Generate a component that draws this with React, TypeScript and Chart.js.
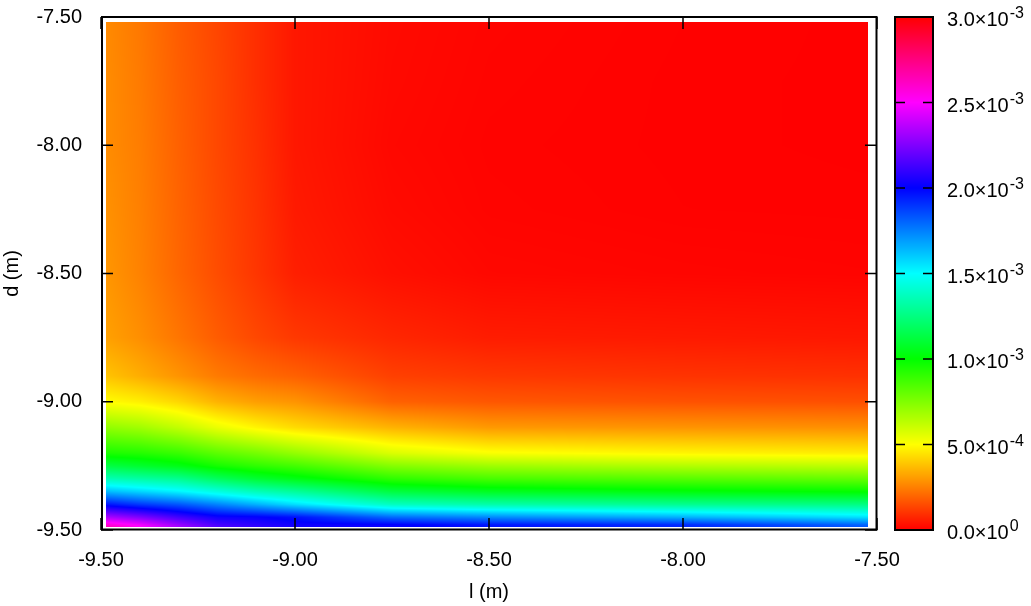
import React, { useEffect, useRef } from "react";
import { Chart, registerables } from "chart.js";

Chart.register(...registerables);

// Grid nodes
const lNodes = [-9.5, -9.4, -9.3, -9.2, -9.1, -9.0, -8.75, -8.5, -8.0, -7.5];
const dNodes = [-7.5, -7.75, -8.0, -8.25, -8.5, -8.75, -8.9, -9.0, -9.1, -9.2, -9.25, -9.3, -9.35, -9.4, -9.45, -9.48, -9.5];

// Values along each column (one list per l node, following dNodes top to bottom), in units of 1e-4
const Z_UNIT = 1e-4;
const zAtL950 = [2.75, 2.8, 2.8, 2.9, 3.0, 3.2, 3.9, 5.0, 7.2, 9.5, 11.4, 13.6, 16.4, 19.7, 23.5, 26.0, 27.5];
const zAtL940 = [2.35, 2.4, 2.45, 2.5, 2.55, 2.8, 3.4, 4.7, 6.85, 9.3, 10.9, 13.2, 15.8, 18.9, 22.5, 24.8, 25.5];
const zAtL930 = [1.8, 1.85, 1.9, 1.95, 2.0, 2.3, 2.9, 4.2, 6.2, 8.9, 10.4, 12.8, 15.2, 18.3, 21.3, 23.0, 23.5];
const zAtL920 = [1.35, 1.4, 1.4, 1.45, 1.5, 1.8, 2.4, 3.5, 5.4, 8.2, 9.6, 11.8, 14.4, 17.4, 20.3, 21.4, 21.8];
const zAtL910 = [0.9, 0.9, 0.95, 1.0, 1.05, 1.4, 2.1, 3.1, 4.8, 7.7, 9.1, 11.0, 13.6, 16.5, 20.1, 20.8, 21.1];
const zAtL900 = [0.45, 0.45, 0.45, 0.5, 0.6, 1.1, 1.9, 2.9, 4.3, 7.1, 8.7, 10.4, 13.0, 15.6, 19.7, 20.3, 20.5];
const zAtL875 = [0.2, 0.18, 0.15, 0.2, 0.3, 0.75, 1.25, 1.9, 3.5, 5.7, 7.4, 9.1, 11.25, 13.75, 17.9, 20.1, 20.2];
const zAtL850 = [0.1, 0.08, 0.06, 0.08, 0.15, 0.55, 1.1, 1.7, 3.0, 5.1, 6.9, 8.6, 10.65, 13.3, 17.3, 19.6, 19.8];
const zAtL800 = [0.03, 0.02, 0.02, 0.03, 0.1, 0.5, 1.0, 1.6, 2.9, 4.8, 6.5, 8.3, 10.2, 12.8, 16.5, 19.2, 19.3];
const zAtL750 = [0.0, 0.0, 0.0, 0.02, 0.07, 0.45, 0.95, 1.55, 2.8, 4.6, 6.25, 8.0, 9.9, 12.5, 15.5, 18.0, 18.6];
const zColumns = [zAtL950, zAtL940, zAtL930, zAtL920, zAtL910, zAtL900, zAtL875, zAtL850, zAtL800, zAtL750];

const xTickValues = [-9.5, -9.0, -8.5, -8.0, -7.5];
const yTickValues = [-9.5, -9.0, -8.5, -8.0, -7.5];

const cbMin = 0;
const cbMax = 3e-3;
const cbTickValues = [0, 5e-4, 1e-3, 1.5e-3, 2e-3, 2.5e-3, 3e-3];
const cbMantissas = ["0.0", "5.0", "1.0", "1.5", "2.0", "2.5", "3.0"];
const cbExponents = ["0", "-4", "-3", "-3", "-3", "-3", "-3"];

const FONT_FAMILY = '"Liberation Sans", Arial, Helvetica, sans-serif';

function paletteColor(v: number): [number, number, number] {
  let t = (v - cbMin) / (cbMax - cbMin);
  if (t < 0) t = 0;
  if (t > 1) t = 1;
  const h = (t * 360) % 360;
  const hp = h / 60;
  const x = 1 - Math.abs((hp % 2) - 1);
  let r = 0, g = 0, b = 0;
  if (hp < 1) { r = 1; g = x; }
  else if (hp < 2) { r = x; g = 1; }
  else if (hp < 3) { g = 1; b = x; }
  else if (hp < 4) { g = x; b = 1; }
  else if (hp < 5) { r = x; b = 1; }
  else { r = 1; b = x; }
  return [Math.round(r * 255), Math.round(g * 255), Math.round(b * 255)];
}

function locate(arr: number[], v: number): [number, number] {
  for (let k = 0; k < arr.length - 1; k++) {
    const a = arr[k], b = arr[k + 1];
    if ((v - a) * (v - b) <= 0) return [k, (v - a) / (b - a)];
  }
  const asc = arr[arr.length - 1] > arr[0];
  if ((asc && v < arr[0]) || (!asc && v > arr[0])) return [0, 0];
  return [arr.length - 2, 1];
}

const heatPlugin = {
  id: "heatmap",
  afterDatasetsDraw(chart: any) {
    const ctx: CanvasRenderingContext2D = chart.ctx;
    const xs = chart.scales.x;
    const ys = chart.scales.y;
    const cb = chart.scales.cb;
    const ca = chart.chartArea;

    // heat image
    const x0 = Math.round(ca.left + 5);
    const x1 = Math.round(ca.right - 9);
    const y0 = Math.round(ca.top + 5);
    const y1 = Math.round(ca.bottom - 3);
    const w = x1 - x0;
    const h = y1 - y0;
    const img = ctx.createImageData(w, h);
    const cols: [number, number][] = [];
    const rows: [number, number][] = [];
    for (let i = 0; i < w; i++) cols.push(locate(lNodes, xs.getValueForPixel(x0 + i + 0.5)));
    for (let j = 0; j < h; j++) rows.push(locate(dNodes, ys.getValueForPixel(y0 + j + 0.5)));
    for (let j = 0; j < h; j++) {
      const [ri, rt] = rows[j];
      for (let i = 0; i < w; i++) {
        const [ci, ct] = cols[i];
        const z00 = zColumns[ci][ri];
        const z10 = zColumns[ci + 1][ri];
        const z01 = zColumns[ci][ri + 1];
        const z11 = zColumns[ci + 1][ri + 1];
        const z = ((1 - ct) * (1 - rt) * z00 + ct * (1 - rt) * z10 + (1 - ct) * rt * z01 + ct * rt * z11) * Z_UNIT;
        const [r, g, b] = paletteColor(z);
        const p = (j * w + i) * 4;
        img.data[p] = r;
        img.data[p + 1] = g;
        img.data[p + 2] = b;
        img.data[p + 3] = 255;
      }
    }
    ctx.putImageData(img, x0, y0);

    ctx.save();
    ctx.strokeStyle = "#000";
    // inward ticks, mirrored
    ctx.lineWidth = 1.5;
    ctx.beginPath();
    for (const v of xTickValues) {
      const px = xs.getPixelForValue(v);
      ctx.moveTo(px, ca.bottom);
      ctx.lineTo(px, ca.bottom - 12);
      ctx.moveTo(px, ca.top);
      ctx.lineTo(px, ca.top + 12);
    }
    for (const v of yTickValues) {
      const py = ys.getPixelForValue(v);
      ctx.moveTo(ca.left, py);
      ctx.lineTo(ca.left + 12, py);
      ctx.moveTo(ca.right, py);
      ctx.lineTo(ca.right - 12, py);
    }
    ctx.stroke();
    // frame
    ctx.lineWidth = 2;
    ctx.strokeRect(ca.left + 1, ca.top, ca.right - ca.left - 1.5, ca.bottom - ca.top - 0.5);

    // colour box
    const cbL = ca.right + 18;
    const cbW = 38;
    const cbR = cbL + cbW;
    const cTop = Math.min(cb.getPixelForValue(cbMax), cb.getPixelForValue(cbMin));
    const cBot = Math.max(cb.getPixelForValue(cbMax), cb.getPixelForValue(cbMin));
    for (let py = Math.floor(cTop); py < Math.ceil(cBot); py++) {
      const v = cb.getValueForPixel(py + 0.5);
      const [r, g, b] = paletteColor(v);
      ctx.fillStyle = `rgb(${r},${g},${b})`;
      ctx.fillRect(cbL, py, cbW, 1);
    }
    ctx.lineWidth = 1.5;
    ctx.beginPath();
    for (const v of cbTickValues) {
      const py = cb.getPixelForValue(v);
      ctx.moveTo(cbL, py);
      ctx.lineTo(cbL + 10, py);
      ctx.moveTo(cbR, py);
      ctx.lineTo(cbR - 10, py);
    }
    ctx.stroke();
    ctx.lineWidth = 2;
    ctx.strokeRect(cbL, cTop, cbW, cBot - cTop);

    // colour box labels
    ctx.fillStyle = "#000";
    ctx.textAlign = "left";
    ctx.textBaseline = "alphabetic";
    cbTickValues.forEach((v, k) => {
      const py = cb.getPixelForValue(v);
      const base = cbMantissas[k] + "\u00d710";
      ctx.font = `20px ${FONT_FAMILY}`;
      const lx = cbR + 14;
      ctx.fillText(base, lx, py + 9);
      const bw = ctx.measureText(base).width;
      ctx.font = `16px ${FONT_FAMILY}`;
      ctx.fillText(cbExponents[k], lx + bw + 1, py + 1);
    });
    ctx.restore();
  },
};

export default function App() {
  const ref = useRef<HTMLCanvasElement | null>(null);
  useEffect(() => {
    if (!ref.current) return;
    const font = { family: FONT_FAMILY, size: 20 };
    const chart = new Chart(ref.current, {
      type: "scatter",
      data: { datasets: [] },
      options: {
        responsive: false,
        animation: false,
        events: [],
        layout: { padding: { left: 0, top: 17, right: 154, bottom: 0 } },
        plugins: { legend: { display: false }, tooltip: { enabled: false } },
        scales: {
          x: {
            type: "linear",
            position: "bottom",
            min: -9.5,
            max: -7.5,
            afterBuildTicks: (s: any) => {
              s.ticks = xTickValues.map((v) => ({ value: v }));
            },
            afterFit: (s: any) => {
              s.height = 76;
              s.paddingLeft = 0;
              s.paddingRight = 0;
              s.paddingTop = 0;
              s.paddingBottom = 0;
            },
            ticks: {
              font,
              color: "#000",
              padding: 18,
              autoSkip: false,
              maxRotation: 0,
              callback: (v: any) => Number(v).toFixed(2),
            },
            grid: { display: false, drawTicks: false },
            border: { display: false },
            title: { display: true, text: "l (m)", font, color: "#000", padding: { top: 0, bottom: 2 } },
          },
          y: {
            type: "linear",
            position: "left",
            min: -9.5,
            max: -7.5,
            afterBuildTicks: (s: any) => {
              s.ticks = yTickValues.map((v) => ({ value: v }));
            },
            afterFit: (s: any) => {
              s.width = 101;
              s.paddingLeft = 0;
              s.paddingRight = 0;
              s.paddingTop = 0;
              s.paddingBottom = 0;
            },
            ticks: {
              font,
              color: "#000",
              padding: 19,
              autoSkip: false,
              callback: (v: any) => Number(v).toFixed(2),
            },
            grid: { display: false, drawTicks: false },
            border: { display: false },
            title: { display: true, text: "d (m)", font, color: "#000", padding: { top: 0, bottom: 0 } },
          },
          cb: {
            type: "linear",
            position: "right",
            display: false,
            min: cbMin,
            max: cbMax,
            afterFit: (s: any) => {
              s.paddingLeft = 0;
              s.paddingRight = 0;
              s.paddingTop = 0;
              s.paddingBottom = 0;
            },
          },
        },
      } as any,
      plugins: [heatPlugin],
    });
    return () => chart.destroy();
  }, []);
  return (
    <div style={{ position: "absolute", left: 0, top: 0, width: 1031, height: 606, background: "#fff" }}>
      <canvas ref={ref} width={1031} height={606} style={{ display: "block" }} />
    </div>
  );
}
